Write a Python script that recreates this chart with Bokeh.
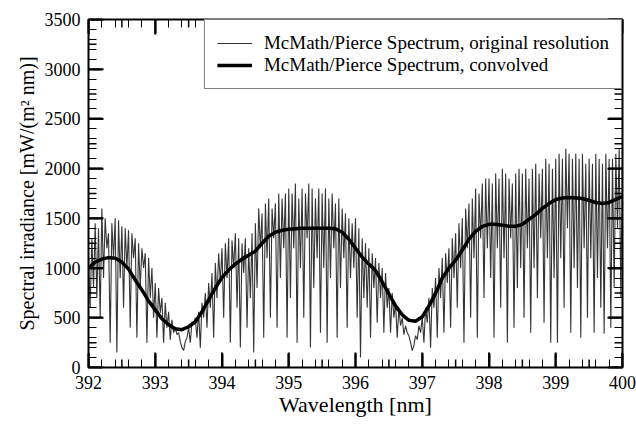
import numpy as np
from bokeh.plotting import figure
from bokeh.models import Range1d, Legend, LegendItem, LinearAxis
from bokeh.embed import file_html
from bokeh.resources import INLINE

# ---- Data ----
# Original-resolution spectrum: sampled every 0.025 nm from 392.000 to 400.000 nm
orig_start = 392.0
orig_step = 0.025
orig_irr = [
    # 392.0 - 392.5
    1100, 600, 1300, 800, 1450, 700, 1400, 500, 1600, 900, 1500, 1200, 1350, 250, 1450, 1100, 1500, 150, 1480, 900,
    # 392.5 - 393.0
    1420, 600, 1400, 1000, 1380, 400, 1350, 1100, 1300, 300, 1250, 800, 1200, 1000, 1150, 250, 1100, 700, 1000, 500,
    # 393.0 - 393.5
    850, 300, 800, 550, 700, 250, 650, 400, 560, 280, 480, 350, 400, 330, 350, 260, 200, 170, 260, 300,
    # 393.5 - 394.0
    400, 250, 460, 430, 500, 300, 560, 200, 650, 500, 750, 400, 850, 600, 950, 300, 1050, 700, 1150, 850,
    # 394.0 - 394.5
    1200, 500, 1250, 900, 1300, 250, 1280, 1000, 1350, 600, 1300, 200, 1250, 950, 1300, 400, 1200, 700, 1350, 150,
    # 394.5 - 395.0
    1450, 800, 1600, 1200, 1550, 300, 1650, 1100, 1700, 500, 1600, 1300, 1650, 400, 1750, 900, 1700, 1200, 1750, 300,
    # 395.0 - 395.5
    1800, 700, 1750, 1200, 1850, 250, 1700, 1000, 1800, 500, 1750, 1300, 1850, 200, 1800, 800, 1700, 1100, 1800, 350,
    # 395.5 - 396.0
    1750, 1000, 1800, 250, 1700, 900, 1750, 1200, 1650, 300, 1700, 800, 1600, 1100, 1550, 400, 1500, 900, 1450, 1000,
    # 396.0 - 396.5
    1500, 500, 1400, 100, 1300, 700, 1250, 600, 1200, 300, 1150, 800, 1100, 450, 1050, 700, 1000, 350, 950, 600,
    # 396.5 - 397.0
    800, 350, 750, 500, 650, 300, 600, 420, 500, 330, 420, 350, 320, 250, 170, 220, 320, 280, 420, 350,
    # 397.0 - 397.5
    500, 250, 600, 450, 700, 200, 800, 600, 900, 300, 1000, 700, 1100, 350, 1150, 850, 1200, 400, 1300, 900,
    # 397.5 - 398.0
    1350, 600, 1450, 1000, 1500, 250, 1600, 1200, 1650, 500, 1700, 1100, 1800, 300, 1750, 1300, 1850, 700, 1900, 1200,
    # 398.0 - 398.5
    1900, 900, 1850, 300, 1950, 1200, 1900, 600, 2000, 1100, 1950, 250, 1900, 1300, 1850, 400, 1950, 800, 2000, 1000,
    # 398.5 - 399.0
    1950, 500, 2000, 1200, 1900, 350, 2000, 1000, 2050, 700, 1950, 1300, 2000, 450, 2100, 1100, 2050, 250, 2000, 900,
    # 399.0 - 399.5
    2100, 250, 2150, 1100, 2100, 600, 2200, 1400, 2150, 350, 2100, 1000, 2150, 800, 2100, 300, 2150, 1200, 2050, 500,
    # 399.5 - 400.0
    2100, 1100, 2050, 350, 2150, 900, 2100, 600, 2050, 340, 2150, 1200, 2100, 400, 2100, 800, 2150, 1400, 2200, 700,
    # 400.0
    2250,
]
orig_wl = [round(orig_start + i * orig_step, 3) for i in range(len(orig_irr))]

# Convolved spectrum
conv_wl = [392.0, 392.1, 392.2, 392.3, 392.4, 392.5, 392.6, 392.7, 392.8, 392.9,
           393.0, 393.1, 393.2, 393.3, 393.4, 393.5, 393.6, 393.7, 393.8, 393.9,
           394.0, 394.1, 394.2, 394.3, 394.4, 394.5, 394.6, 394.7, 394.8, 394.9,
           395.0, 395.1, 395.2, 395.3, 395.4, 395.5, 395.6, 395.7, 395.8, 395.9,
           396.0, 396.1, 396.2, 396.3, 396.4, 396.5, 396.6, 396.7, 396.8, 396.9,
           397.0, 397.1, 397.2, 397.3, 397.4, 397.5, 397.6, 397.7, 397.8, 397.9,
           398.0, 398.1, 398.2, 398.3, 398.4, 398.5, 398.6, 398.7, 398.8, 398.9,
           399.0, 399.1, 399.2, 399.3, 399.4, 399.5, 399.6, 399.7, 399.8, 399.9, 400.0]
conv_irr = [1000, 1060, 1090, 1105, 1100, 1060, 990, 880, 780, 670,
            580, 490, 430, 390, 380, 410, 460, 560, 680, 800,
            905, 980, 1040, 1090, 1130, 1170, 1250, 1320, 1360, 1380,
            1390, 1395, 1400, 1400, 1400, 1400, 1400, 1395, 1360, 1290,
            1200, 1110, 1040, 975, 860, 740, 620, 530, 475, 465,
            510, 620, 745, 900, 1000, 1080, 1180, 1290, 1370, 1420,
            1440, 1440, 1430, 1420, 1420, 1440, 1490, 1540, 1600, 1650,
            1690, 1705, 1710, 1705, 1700, 1680, 1660, 1650, 1660, 1690, 1720]

# Axis tick positions
x_major = [392, 393, 394, 395, 396, 397, 398, 399, 400]
x_minor = [392.5, 393.5, 394.5, 395.5, 396.5, 397.5, 398.5, 399.5]
y_major = [0, 500, 1000, 1500, 2000, 2500, 3000, 3500]
y_minor = [250, 750, 1250, 1750, 2250, 2750, 3250]

label_orig = "McMath/Pierce Spectrum, original resolution"
label_conv = "McMath/Pierce Spectrum, convolved"
x_label = "Wavelength [nm]"
y_label = "Spectral irradiance [mW/(m² nm)]"

FONT = "Liberation Serif"
X0, X1, Y0, Y1 = 392, 400, 0, 3500

p = figure(width=636, height=431, output_backend="svg", toolbar_location=None,
           x_range=Range1d(X0, X1), y_range=Range1d(Y0, Y1),
           min_border_left=88, min_border_right=14, min_border_top=19, min_border_bottom=64,
           background_fill_color="white", border_fill_color="white")
p.grid.visible = False
p.outline_line_color = "black"
p.outline_line_width = 2

r1 = p.line(orig_wl, orig_irr, line_color="#1e1e1e", line_width=1.1, line_alpha=0.9)
r2 = p.line(conv_wl, conv_irr, line_color="black", line_width=3.5)

# inward tick marks on all four sides (dash markers clipped by the frame)
for vals, size, lw in ((x_major, 30, 2), (x_minor, 16, 1.5)):
    for yv in (Y0, Y1):
        p.scatter(vals, [yv] * len(vals), marker="dash", size=size, angle=np.pi / 2,
                  line_color="black", line_width=lw)
for vals, size, lw in ((y_major, 30, 2), (y_minor, 16, 1.5)):
    for xv in (X0, X1):
        p.scatter([xv] * len(vals), vals, marker="dash", size=size,
                  line_color="black", line_width=lw)

# native axes: inward ticks as well (same positions as the markers)
for ax in (p.xaxis[0], p.yaxis[0]):
    ax.major_tick_in = 14
    ax.major_tick_out = 0
    ax.minor_tick_in = 8
    ax.minor_tick_out = 0
    ax.major_tick_line_width = 2
    ax.major_label_text_font = FONT
    ax.major_label_text_font_size = "18px"
    ax.major_label_text_color = "black"
    ax.major_label_standoff = 8
    ax.axis_label_text_font = FONT
    ax.axis_label_text_font_style = "normal"
    ax.axis_label_text_color = "black"

p.xaxis[0].axis_label = x_label
p.xaxis[0].axis_label_text_font_size = "22px"
p.xaxis[0].axis_label_standoff = 0
p.yaxis[0].axis_label = y_label
p.yaxis[0].axis_label_text_font_size = "20px"
p.yaxis[0].axis_label_standoff = 4

# mirrored axes (top and right) with inward ticks and no labels
for side in ("above", "right"):
    m = LinearAxis()
    m.major_tick_in = 14
    m.major_tick_out = 0
    m.minor_tick_in = 8
    m.minor_tick_out = 0
    m.major_tick_line_width = 2
    m.major_label_text_color = None
    m.major_label_standoff = 0
    p.add_layout(m, side)

legend = Legend(items=[LegendItem(label=label_orig, renderers=[r1]),
                       LegendItem(label=label_conv, renderers=[r2])],
                location="top_right", margin=0, padding=12, spacing=0,
                glyph_width=35, glyph_height=22, label_height=22, label_standoff=12,
                label_text_font=FONT, label_text_font_size="19px",
                label_text_color="black",
                border_line_color="black", border_line_width=1.5,
                background_fill_color="white", background_fill_alpha=1.0)
p.add_layout(legend, "center")

open("out.html", "w").write(file_html(p, INLINE))
